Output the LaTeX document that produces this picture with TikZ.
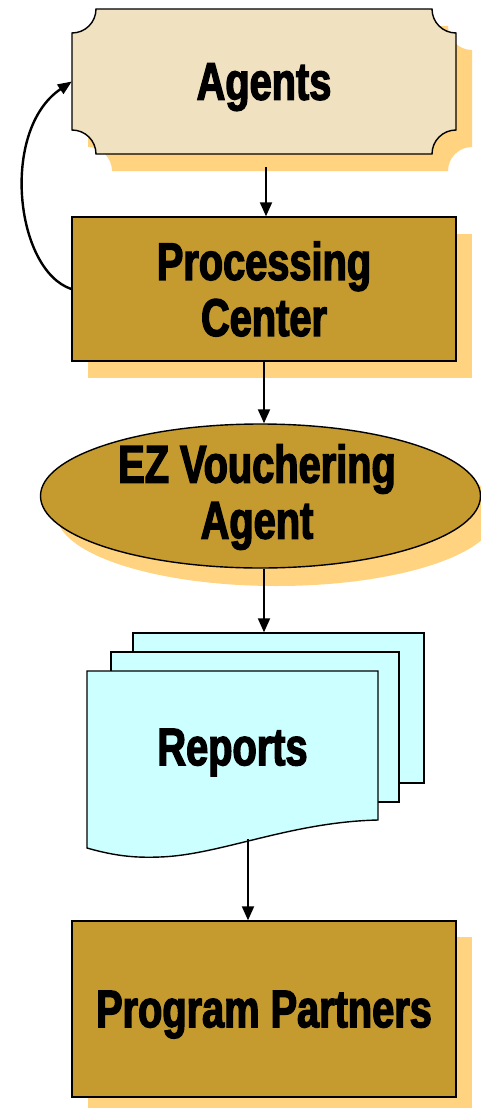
\documentclass[tikz,border=0pt]{standalone}
\usepackage{fontspec}
\newfontfamily\impactf[FakeStretch=0.75,FakeBold=2.5]{Liberation Sans}
\usetikzlibrary{arrows.meta,shapes.geometric,shadows}
\definecolor{beige}{RGB}{240,225,192}
\definecolor{shad}{RGB}{255,211,128}
\definecolor{gold}{RGB}{197,155,48}
\definecolor{paper}{RGB}{204,255,255}
\begin{document}
\begin{tikzpicture}[x=1pt,y=-1pt,
  lbl/.style={font=\impactf\bfseries\fontsize{53}{56}\selectfont, align=center},
  arr/.style={line width=2pt, -{Triangle[length=14pt,width=12pt]}},
  curv/.style={line width=2.4pt, -{Triangle[length=14pt,width=11pt]}},
  outline/.style={draw=black, line width=1.4pt},
  goldbox/.style={outline, fill=gold, inner sep=0pt,
    drop shadow={shadow xshift=16pt, shadow yshift=-17pt, fill=shad, opacity=1}},
  pagebox/.style={outline, fill=paper, inner sep=0pt}]
\useasboundingbox[fill=white] (0,0) rectangle (481,1108);

% Agents: scalloped plaque with shadow
\begin{scope}[shift={(16pt,-17pt)}]
\fill[shad] (96,9) -- (432,9) arc[start angle=180,end angle=90,radius=24]
  -- (456,130) arc[start angle=270,end angle=180,radius=24]
  -- (96,154) arc[start angle=0,end angle=-90,radius=24]
  -- (72,33) arc[start angle=90,end angle=0,radius=24] -- cycle;
\end{scope}
\filldraw[outline, fill=beige] (96,9) -- (432,9) arc[start angle=180,end angle=90,radius=24]
  -- (456,130) arc[start angle=270,end angle=180,radius=24]
  -- (96,154) arc[start angle=0,end angle=-90,radius=24]
  -- (72,33) arc[start angle=90,end angle=0,radius=24] -- cycle;
\node[lbl, text depth=0pt, minimum width=384pt, minimum height=145pt, inner sep=0pt] (agents) at (264,81.5) {Agents};

% Processing Center
\node[goldbox, lbl, minimum width=384pt, minimum height=144pt] (pc) at (264,289) {Processing\\Center};

% EZ Vouchering Agent
\node[goldbox, ellipse, minimum width=440pt, minimum height=144pt, drop shadow={shadow xshift=16pt, shadow yshift=-18pt, fill=shad, opacity=1}] (ez) at (260.5,496) {};
\node[lbl] (ezt) at (257,497) {EZ Vouchering\\Agent};

% Reports: stacked documents
\node[pagebox, minimum width=291pt, minimum height=150pt] (back) at (278.5,708) {};
\node[pagebox, minimum width=288pt, minimum height=150pt] (mid) at (255,727) {};
\filldraw[pagebox] (87,671) -- (378,671) -- (378,820)
  .. controls (290,822) and (220,855) .. (160,857)
  .. controls (135,858) and (115,856) .. (87,848) -- cycle;
\node[lbl, text depth=0pt] (reports) at (232.5,747) {Reports};
\coordinate (repb) at (248,839);

% Program Partners
\node[goldbox, lbl, text depth=0pt, minimum width=384pt, minimum height=176pt, drop shadow={shadow xshift=16pt, shadow yshift=-16pt, fill=shad, opacity=1}] (pp) at (264,1009) {Program Partners};

% connectors
\draw[arr] ([xshift=2pt,yshift=-13pt]agents.south) -- ([xshift=2pt]pc.north);
\draw[arr] (pc.south) -- (pc.south |- ez.north);
\draw[arr] (pc.south |- ez.south) -- (pc.south |- back.north);
\draw[arr] (repb) -- (repb |- pp.north);
\draw[curv] (pc.west) .. controls (15,270) and (0,130) .. (agents.west);
\end{tikzpicture}
\end{document}
